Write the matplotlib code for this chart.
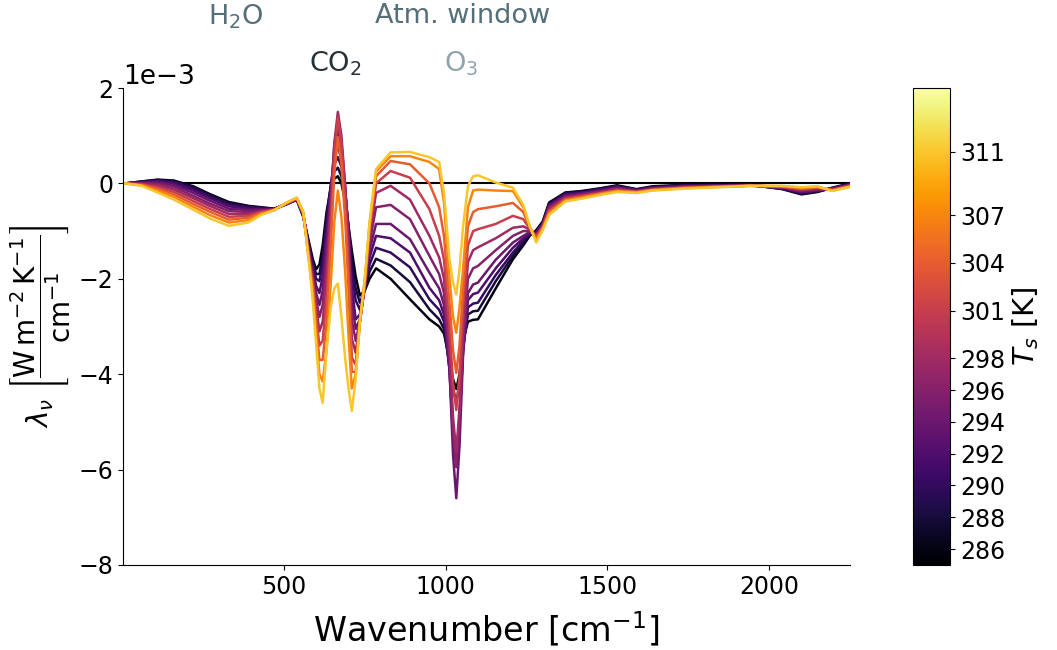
import matplotlib
matplotlib.use("Agg")
import matplotlib.pyplot as plt
import numpy as np
from matplotlib.colors import Normalize
from matplotlib.cm import ScalarMappable

# surface temperatures of the runs [K]
Ts = [286, 288, 290, 292, 294, 296, 298, 301, 304, 307, 311]

# wavenumber grid [cm^-1]
wn = [10, 60, 110, 160, 220, 270, 330, 390, 430, 470, 510, 540,
      560, 580, 590, 600, 610, 620, 632, 645, 656, 667, 678, 690, 700, 710, 722, 735, 750, 765, 785,
      830, 890, 950,
      980, 995, 1012, 1023, 1033, 1043, 1054, 1069, 1085, 1100,
      1155, 1208, 1240, 1260, 1280, 1300, 1320, 1370, 1420, 1480, 1530, 1590, 1640,
      1740, 1850, 1940, 2040, 2100, 2150, 2195, 2250]

# spectral feedback lambda_nu, in units of 1e-3 W m-2 K-1 / cm-1
lam_286 = [0, 0.04, 0.08, 0.06, -0.06, -0.22, -0.39, -0.47, -0.50, -0.53, -0.43, -0.34,
           -0.7, -1.3, -1.6, -1.8, -1.7, -1.3, -0.6, -0.1, 0.1, 0.15, 0.0, -0.4, -0.9, -1.4, -1.95, -2.35, -2.25, -2.0, -1.78,
           -2.0, -2.43, -2.85,
           -3.0, -3.15, -3.7, -4.1, -4.31, -4.0, -3.3, -2.9, -2.86, -2.85,
           -2.2, -1.59, -1.3, -1.1, -0.98, -0.8, -0.4, -0.19, -0.16, -0.1, -0.04, -0.12, -0.06,
           -0.03, -0.03, -0.03, -0.12, -0.23, -0.18, -0.09, 0.0]
lam_288 = [0, 0.04, 0.07, 0.05, -0.08, -0.24, -0.41, -0.48, -0.51, -0.53, -0.43, -0.34,
           -0.69, -1.35, -1.7, -1.9, -1.9, -1.5, -0.7, -0.05, 0.25, 0.33, 0.15, -0.35, -0.95, -1.6, -2.2, -2.5, -2.25, -1.85, -1.58,
           -1.72, -2.07, -2.64,
           -2.85, -3.05, -3.8, -4.3, -4.6, -4.2, -3.4, -2.75, -2.68, -2.67,
           -2.05, -1.52, -1.25, -1.08, -1.0, -0.82, -0.42, -0.2, -0.17, -0.11, -0.05, -0.13, -0.07,
           -0.04, -0.03, -0.03, -0.11, -0.22, -0.17, -0.1, -0.01]
lam_290 = [0, 0.03, 0.06, 0.03, -0.11, -0.27, -0.44, -0.50, -0.52, -0.54, -0.43, -0.34,
           -0.68, -1.4, -1.75, -2.0, -2.05, -1.7, -0.85, -0.05, 0.4, 0.55, 0.35, -0.25, -0.9, -1.85, -2.45, -2.65, -2.2, -1.7, -1.35,
           -1.45, -1.76, -2.43,
           -2.65, -2.9, -3.9, -5.2, -5.78, -4.9, -3.5, -2.6, -2.52, -2.5,
           -1.92, -1.45, -1.2, -1.06, -1.02, -0.84, -0.44, -0.22, -0.19, -0.12, -0.06, -0.13, -0.08,
           -0.04, -0.04, -0.03, -0.11, -0.2, -0.16, -0.1, -0.01]
lam_292 = [0, 0.02, 0.04, 0.0, -0.15, -0.31, -0.48, -0.53, -0.54, -0.54, -0.43, -0.33,
           -0.67, -1.45, -1.82, -2.15, -2.3, -1.95, -1.05, -0.1, 0.55, 0.8, 0.5, -0.2, -0.95, -2.15, -2.85, -2.75, -2.2, -1.55, -1.1,
           -1.15, -1.45, -2.19,
           -2.45, -2.75, -3.9, -5.3, -5.92, -5.0, -3.5, -2.45, -2.32, -2.29,
           -1.78, -1.35, -1.15, -1.04, -1.04, -0.85, -0.46, -0.24, -0.2, -0.14, -0.08, -0.14, -0.09,
           -0.05, -0.04, -0.04, -0.1, -0.19, -0.15, -0.11, -0.02]
lam_294 = [0, 0.01, 0.02, -0.04, -0.2, -0.36, -0.53, -0.56, -0.55, -0.54, -0.42, -0.33,
           -0.66, -1.5, -1.9, -2.3, -2.55, -2.25, -1.3, -0.2, 0.7, 1.1, 0.7, -0.15, -1.05, -2.5, -3.05, -2.85, -2.2, -1.4, -0.85,
           -0.85, -1.17, -1.87,
           -2.2, -2.55, -3.9, -5.7, -6.6, -5.5, -3.6, -2.3, -2.12, -2.08,
           -1.6, -1.24, -1.1, -1.02, -1.06, -0.87, -0.48, -0.26, -0.22, -0.15, -0.09, -0.15, -0.1,
           -0.06, -0.05, -0.04, -0.09, -0.17, -0.14, -0.11, -0.03]
lam_296 = [0, 0.0, -0.01, -0.08, -0.26, -0.42, -0.58, -0.6, -0.57, -0.55, -0.42, -0.32,
           -0.65, -1.55, -1.98, -2.45, -2.8, -2.55, -1.6, -0.35, 0.8, 1.3, 0.85, -0.1, -1.2, -2.85, -3.3, -2.9, -2.15, -1.25, -0.5,
           -0.45, -0.75, -1.52,
           -1.9, -2.3, -3.6, -5.2, -5.95, -5.0, -3.3, -2.0, -1.78, -1.73,
           -1.4, -1.1, -1.0, -1.0, -1.08, -0.88, -0.51, -0.28, -0.23, -0.17, -0.11, -0.16, -0.11,
           -0.07, -0.05, -0.04, -0.08, -0.15, -0.12, -0.12, -0.04]
lam_298 = [0, -0.01, -0.04, -0.13, -0.31, -0.47, -0.64, -0.64, -0.59, -0.55, -0.42, -0.32,
           -0.64, -1.6, -2.05, -2.6, -3.1, -2.9, -1.95, -0.55, 0.85, 1.5, 1.0, -0.1, -1.4, -3.25, -3.55, -2.9, -2.15, -1.1, -0.2,
           -0.05, -0.34, -1.1,
           -1.55, -2.0, -3.4, -4.9, -5.64, -4.7, -3.0, -1.65, -1.4, -1.34,
           -1.15, -0.93, -0.9, -0.97, -1.1, -0.9, -0.54, -0.3, -0.25, -0.18, -0.12, -0.17, -0.12,
           -0.08, -0.06, -0.04, -0.08, -0.14, -0.11, -0.13, -0.04]
lam_301 = [0, -0.02, -0.08, -0.18, -0.37, -0.53, -0.70, -0.68, -0.60, -0.55, -0.41, -0.31,
           -0.63, -1.65, -2.12, -2.8, -3.4, -3.3, -2.4, -0.85, 0.6, 1.38, 0.8, -0.4, -1.8, -3.65, -3.8, -2.9, -2.1, -1.0, 0.0,
           0.26, 0.12, -0.54,
           -1.1, -1.6, -3.0, -4.2, -4.75, -4.0, -2.6, -1.3, -1.0, -0.96,
           -0.85, -0.68, -0.75, -0.95, -1.12, -0.91, -0.57, -0.32, -0.27, -0.2, -0.14, -0.18, -0.13,
           -0.09, -0.06, -0.05, -0.07, -0.12, -0.09, -0.14, -0.05]
lam_304 = [0, -0.03, -0.11, -0.23, -0.43, -0.59, -0.76, -0.72, -0.62, -0.56, -0.41, -0.31,
           -0.62, -1.7, -2.2, -3.0, -3.7, -3.7, -2.9, -1.3, 0.2, 0.97, 0.4, -0.8, -2.2, -3.95, -3.95, -2.9, -2.1, -0.9, 0.15,
           0.47, 0.4, 0.0,
           -0.5, -1.1, -2.5, -3.5, -3.97, -3.4, -2.2, -0.9, -0.6, -0.54,
           -0.48, -0.41, -0.6, -0.92, -1.15, -0.93, -0.6, -0.34, -0.28, -0.21, -0.15, -0.18, -0.13,
           -0.09, -0.07, -0.05, -0.06, -0.11, -0.08, -0.14, -0.06]
lam_307 = [0, -0.04, -0.15, -0.28, -0.49, -0.66, -0.82, -0.77, -0.64, -0.56, -0.40, -0.30,
           -0.61, -1.75, -2.35, -3.2, -4.0, -4.15, -3.5, -2.1, -0.8, -0.15, -0.7, -1.9, -3.2, -4.3, -4.0, -2.9, -2.05, -0.85, 0.25,
           0.57, 0.57, 0.45,
           0.3, -0.4, -2.0, -2.8, -3.13, -2.6, -1.8, -0.5, -0.15, -0.13,
           -0.15, -0.16, -0.5, -0.9, -1.2, -0.96, -0.63, -0.36, -0.3, -0.22, -0.16, -0.19, -0.14,
           -0.1, -0.07, -0.05, -0.06, -0.09, -0.07, -0.15, -0.07]
lam_311 = [0, -0.05, -0.19, -0.34, -0.55, -0.73, -0.89, -0.82, -0.66, -0.56, -0.40, -0.30,
           -0.6, -1.8, -2.5, -3.4, -4.3, -4.6, -3.5, -2.6, -2.2, -2.1, -2.8, -3.7, -4.3, -4.77, -4.1, -2.9, -2.0, -0.8, 0.3,
           0.65, 0.66, 0.55,
           0.45, -0.2, -1.6, -2.08, -2.33, -1.8, -0.9, -0.06, 0.15, 0.17,
           0.02, -0.09, -0.45, -0.9, -1.24, -0.98, -0.66, -0.38, -0.32, -0.24, -0.18, -0.2, -0.15,
           -0.11, -0.08, -0.05, -0.05, -0.08, -0.06, -0.16, -0.07]

curves = [lam_286, lam_288, lam_290, lam_292, lam_294, lam_296,
          lam_298, lam_301, lam_304, lam_307, lam_311]

cmap = plt.get_cmap("inferno")
norm = Normalize(vmin=285, vmax=315)

fig = plt.figure(figsize=(10.57, 6.5), dpi=100)
ax = fig.add_axes([0.1164, 0.1308, 0.6878, 0.7338])
cax = fig.add_axes([0.8638, 0.1308, 0.035, 0.7338])

ax.axhline(0, color="k", lw=1.5, zorder=1)
for T, lam in zip(Ts, curves):
    ax.plot(wn, np.array(lam) * 1e-3, color=cmap(norm(T)), lw=1.8, zorder=2)

ax.set_xlim(3, 2250)
ax.set_ylim(-8e-3, 2e-3)
ax.set_xticks([500, 1000, 1500, 2000])
ax.ticklabel_format(axis="y", style="sci", scilimits=(0, 0))
ax.yaxis.get_offset_text().set_fontsize(19)
ax.tick_params(labelsize=17)
ax.spines["top"].set_visible(False)
ax.spines["right"].set_visible(False)
ax.set_xlabel("Wavenumber [cm$^{-1}$]", fontsize=24, labelpad=8)
ax.set_ylabel(r"$\lambda_\nu$ $\left[\dfrac{\mathrm{W\,m^{-2}\,K^{-1}}}{\mathrm{cm^{-1}}}\right]$",
              fontsize=20)

# band labels above the plot
ax.text(350, 3.5e-3, "H$_2$O", color="#546e7a", fontsize=19.5, ha="center", va="center", clip_on=False)
ax.text(1052, 3.5e-3, "Atm. window", color="#546e7a", fontsize=19.5, ha="center", va="center", clip_on=False)
ax.text(660, 2.5e-3, "CO$_2$", color="#263238", fontsize=19.5, ha="center", va="center", clip_on=False)
ax.text(1049, 2.5e-3, "O$_3$", color="#90a4ae", fontsize=19.5, ha="center", va="center", clip_on=False)

sm = ScalarMappable(norm=norm, cmap=cmap)
cbar = fig.colorbar(sm, cax=cax, ticks=Ts)
cbar.ax.set_yticklabels([str(t) for t in Ts])
cbar.ax.tick_params(labelsize=17)
cbar.set_label("$T_s$ [K]", fontsize=21)

fig.savefig("out.png", dpi=100)
